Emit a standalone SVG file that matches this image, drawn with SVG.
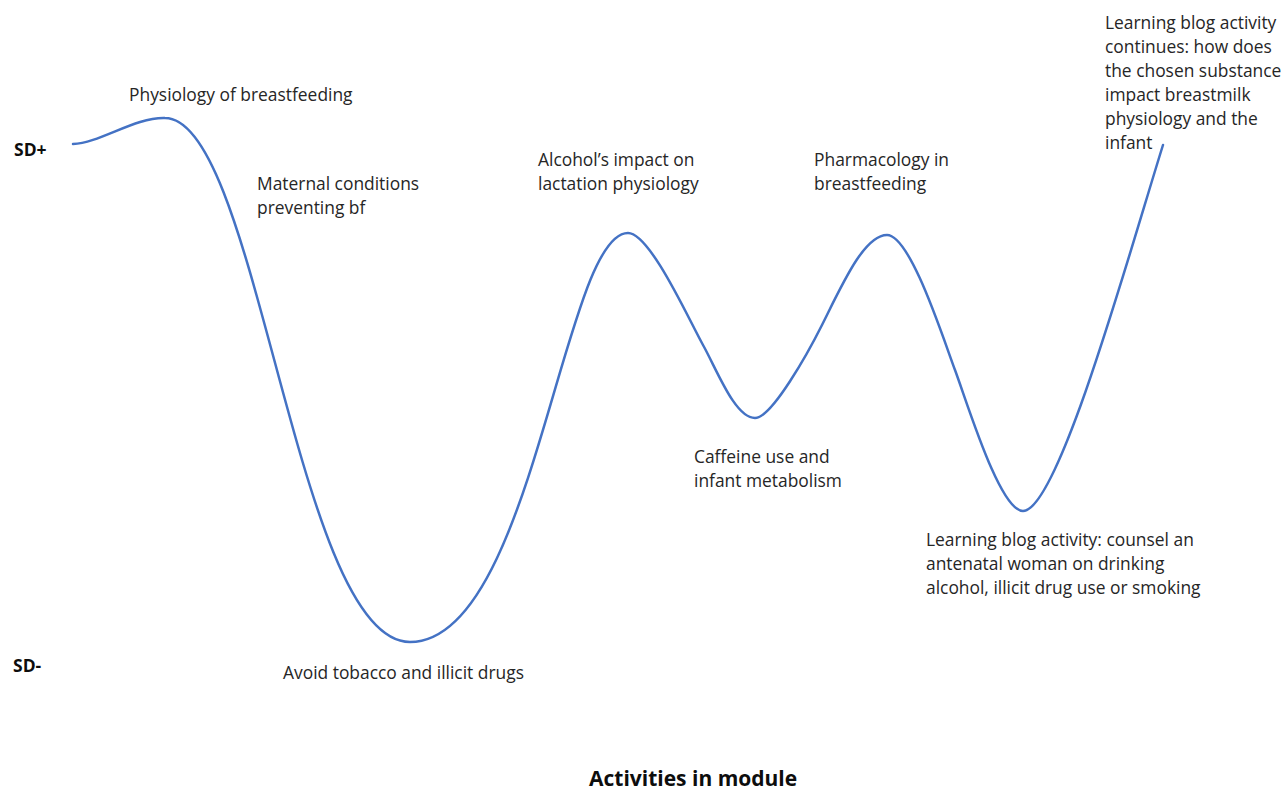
<svg xmlns="http://www.w3.org/2000/svg" width="1282" height="793" viewBox="0 0 1282 793">
<style>
.t{font-family:"Open Sans","Liberation Sans",sans-serif;font-size:17.4px;fill:#262626}
.b{font-family:"Open Sans","Liberation Sans",sans-serif;font-size:17.5px;font-weight:bold;fill:#0d0d0d}
.wave{fill:none;stroke:#4472C4;stroke-width:2.5;stroke-linecap:round}
</style>
<rect width="1282" height="793" fill="#ffffff"/>
<g id="connectors">
<path class="wave" d="M73,144 C100,143 135,117 165,118 C258,118 296,642 410,642 C533,642 563,233 628,233 C650,233 689,320 703,345 C717,370 735,418 755,418 C772,418 809,351 822,325 C842,285 864,235 887,235 C910,235 942,335 955,370 C968,405 1000,511 1023,511 C1058,511 1128,257 1163,145"/>
</g>
<g id="axis-sd-plus"><text class="b" x="14" y="156">SD+</text></g>
<g id="axis-sd-minus"><text class="b" x="13" y="672">SD-</text></g>
<g id="axis-x"><text class="b" x="589" y="786" style="font-size:21px">Activities in module</text></g>
<g id="n1"><text class="t" x="129" y="101">Physiology of breastfeeding</text></g>
<g id="n2"><text class="t" x="257" y="190">Maternal conditions<tspan x="257" dy="24">preventing bf</tspan></text></g>
<g id="n3"><text class="t" x="283" y="679">Avoid tobacco and illicit drugs</text></g>
<g id="n4"><text class="t" x="538" y="166">Alcohol’s impact on<tspan x="538" dy="24">lactation physiology</tspan></text></g>
<g id="n5"><text class="t" x="694" y="463">Caffeine use and<tspan x="694" dy="24">infant metabolism</tspan></text></g>
<g id="n6"><text class="t" x="814" y="166">Pharmacology in<tspan x="814" dy="24">breastfeeding</tspan></text></g>
<g id="n7"><text class="t" x="926" y="546">Learning blog activity: counsel an<tspan x="926" dy="24">antenatal woman on drinking</tspan><tspan x="926" dy="24">alcohol, illicit drug use or smoking</tspan></text></g>
<g id="n8"><text class="t" x="1105" y="29">Learning blog activity<tspan x="1105" dy="24">continues: how does</tspan><tspan x="1105" dy="24">the chosen substance</tspan><tspan x="1105" dy="24">impact breastmilk</tspan><tspan x="1105" dy="24">physiology and the</tspan><tspan x="1105" dy="24">infant</tspan></text></g>
</svg>
